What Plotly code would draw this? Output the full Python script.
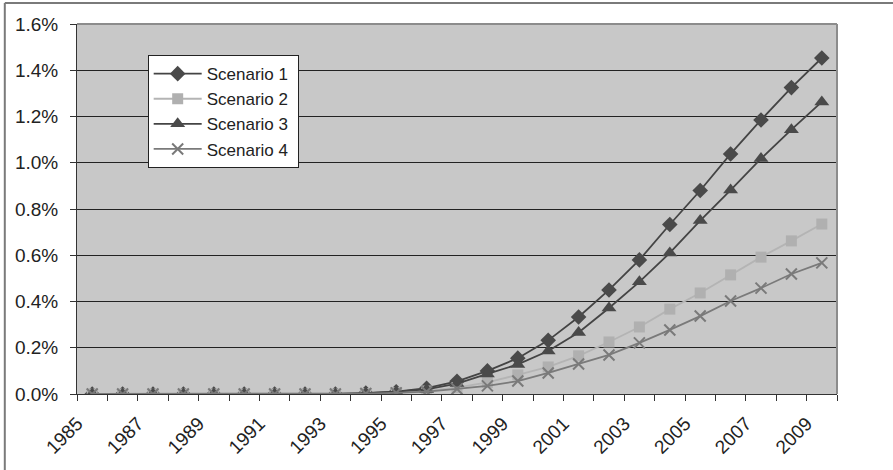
import plotly.graph_objects as go

years = list(range(1985, 2010))
scenario1 = [0, 0, 0, 0, 0, 0, 0, 0, 0, 0.004, 0.010, 0.025, 0.055, 0.100, 0.155, 0.232,
             0.333, 0.450, 0.580, 0.733, 0.880, 1.038, 1.185, 1.325, 1.453]
scenario2 = [0, 0, 0, 0, 0, 0, 0, 0, 0, 0.002, 0.006, 0.013, 0.028, 0.050, 0.083, 0.117,
             0.165, 0.225, 0.290, 0.367, 0.437, 0.515, 0.592, 0.662, 0.735]
scenario3 = [0, 0, 0, 0, 0, 0, 0, 0, 0, 0.004, 0.010, 0.020, 0.045, 0.087, 0.128, 0.186,
             0.266, 0.372, 0.485, 0.610, 0.750, 0.882, 1.018, 1.143, 1.263]
scenario4 = [0, 0, 0, 0, 0, 0, 0, 0, 0, 0.002, 0.005, 0.010, 0.022, 0.035, 0.056, 0.091,
             0.130, 0.169, 0.221, 0.277, 0.337, 0.402, 0.458, 0.519, 0.567]
label_years = list(range(1985, 2010, 2))

series = [
    ("Scenario 1", scenario1, "#444444", "#4a4a4a", "diamond", 12),
    ("Scenario 2", scenario2, "#b4b4b4", "#b0b0b0", "square", 11),
    ("Scenario 3", scenario3, "#444444", "#4a4a4a", "triangle-up", 13),
    ("Scenario 4", scenario4, "#7a7a7a", "#7a7a7a", "x-thin", 11),
]

fig = go.Figure()
for name, vals, lc, mc, sym, size in series:
    fig.add_trace(go.Scatter(
        x=years, y=[v / 100 for v in vals], name=name + " ", mode="lines+markers",
        line=dict(color=lc, width=1.8),
        marker=dict(symbol=sym, size=size, color=mc,
                    line=dict(color=mc, width=2 if sym == "x-thin" else 0)),
    ))

fig.update_layout(
    width=893, height=470,
    margin=dict(l=77, r=56, t=24, b=76),
    paper_bgcolor="white",
    plot_bgcolor="#c8c8c8",
    font=dict(family="Liberation Sans, Arial, sans-serif", size=17, color="#222222"),
    showlegend=True,
    legend=dict(
        x=0.093, y=0.916, xanchor="left", yanchor="top",
        bgcolor="white", bordercolor="#222222", borderwidth=1,
        font=dict(size=17, color="#222222"),
        tracegroupgap=0, itemwidth=48,
    ),
    xaxis=dict(
        range=[1984.5, 2009.5], automargin=False,
        tickmode="array", tickvals=label_years, ticktext=[str(y) for y in label_years],
        tickangle=-45, ticks="", showgrid=False, zeroline=False,
        showline=True, linecolor="#333333", linewidth=1,
        tickfont=dict(size=19, color="#222222"),
        ticklabelshift=-15, ticklabelstandoff=10,
        minor=dict(ticks="outside", tick0=1984.5, dtick=1, ticklen=6,
                   tickcolor="#333333", showgrid=False),
    ),
    yaxis=dict(
        range=[0, 0.016], dtick=0.002, tickformat=".1%", automargin=False,
        ticks="outside", ticklen=6, tickcolor="#333333",
        showgrid=True, gridcolor="#222222", gridwidth=1,
        zeroline=False, showline=True, linecolor="#333333", linewidth=1,
        tickfont=dict(size=19, color="#222222"),
        ticklabelstandoff=8,
    ),
)

# plot area border (top/right gray)
fig.add_shape(type="line", xref="paper", yref="paper", x0=0, x1=1, y0=1, y1=1,
              line=dict(color="#8c8c8c", width=2))
fig.add_shape(type="line", xref="paper", yref="paper", x0=1, x1=1, y0=0, y1=1,
              line=dict(color="#8c8c8c", width=2))
# outer frame
fig.add_shape(type="line", xref="paper", yref="paper", x0=-0.095, x1=1.1, y0=1.057, y1=1.057,
              line=dict(color="#7a7a7a", width=2))
fig.add_shape(type="line", xref="paper", yref="paper", x0=-0.095, x1=-0.095, y0=-0.21, y1=1.057,
              line=dict(color="#7a7a7a", width=2))

fig.write_html("out.html", config={"displayModeBar": False},
               post_script="document.body.style.margin='0';")
